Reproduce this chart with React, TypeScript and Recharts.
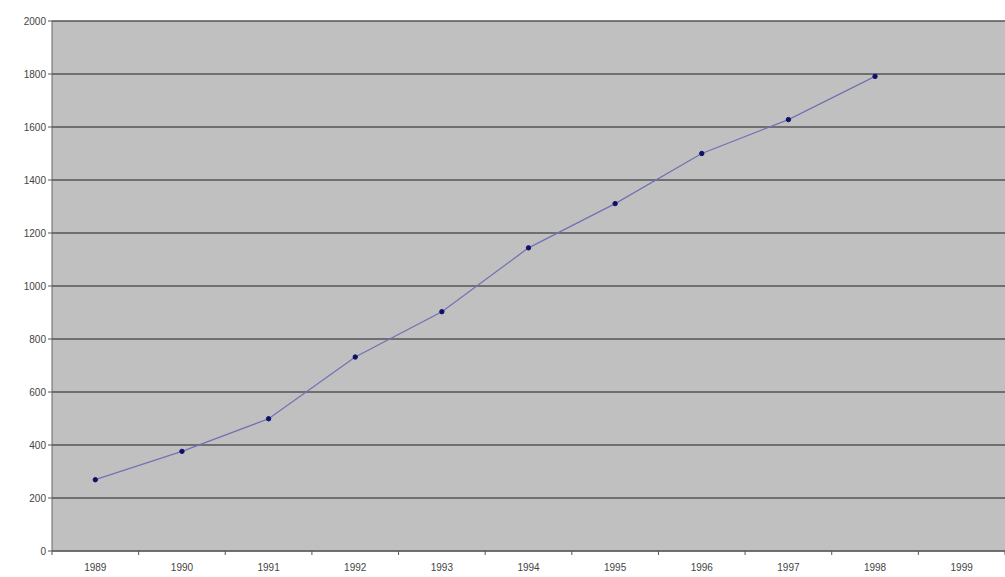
import React from 'react';
import { LineChart, Line, XAxis, YAxis, CartesianGrid } from 'recharts';

const years = ['1989', '1990', '1991', '1992', '1993', '1994', '1995', '1996', '1997', '1998', '1999'];
const values: (number | null)[] = [269, 376, 499, 732, 903, 1144, 1311, 1500, 1628, 1791, null];
const yTicks = [0, 200, 400, 600, 800, 1000, 1200, 1400, 1600, 1800, 2000];

const data = years.map((year, i) => ({ year, value: values[i] }));

const font = 'Liberation Sans, Arial, sans-serif';
const tickStyle = { fontSize: 10, fill: '#444', fontFamily: font };

// Excel-style category tick: label in the middle, tick mark on the band edge
const YearTick = (props: any) => {
  const { x, y, payload, index } = props;
  const half = payload?.offset ?? 0;
  return (
    <g>
      <line x1={x - half} y1={y} x2={x - half} y2={y + 4} stroke="#555" />
      {index === years.length - 1 && (
        <line x1={x + half} y1={y} x2={x + half} y2={y + 4} stroke="#555" />
      )}
      <text x={x} y={y + 20} textAnchor="middle" fontSize={10} fill="#444" fontFamily={font}>
        {payload.value}
      </text>
    </g>
  );
};

export default function App() {
  return (
    <div style={{ width: 1005, height: 577 }}>
      <style>{'body{margin:0;background:#fff}'}</style>
      <LineChart
        width={1005}
        height={577}
        data={data}
        margin={{ top: 21, right: 0, left: 0, bottom: 0 }}
      >
        <CartesianGrid
          vertical={false}
          stroke="#555"
          strokeWidth={1.5}
          fill="#c0c0c0"
        />
        <XAxis
          dataKey="year"
          scale="band"
          tick={<YearTick />}
          tickLine={false}
          tickSize={0}
          tickMargin={0}
          axisLine={{ stroke: '#666' }}
          height={26}
          interval={0}
        />
        <YAxis
          domain={[0, 2000]}
          ticks={yTicks}
          tick={tickStyle}
          tickLine={{ stroke: '#555' }}
          tickSize={4}
          axisLine={{ stroke: '#666' }}
          width={52}
          interval={0}
        />
        <Line
          dataKey="value"
          stroke="#7272b4"
          strokeWidth={1.3}
          isAnimationActive={false}
          connectNulls={false}
          dot={{ r: 2.2, fill: '#10106a', stroke: '#10106a', strokeWidth: 1 }}
          activeDot={false}
        />
      </LineChart>
    </div>
  );
}
